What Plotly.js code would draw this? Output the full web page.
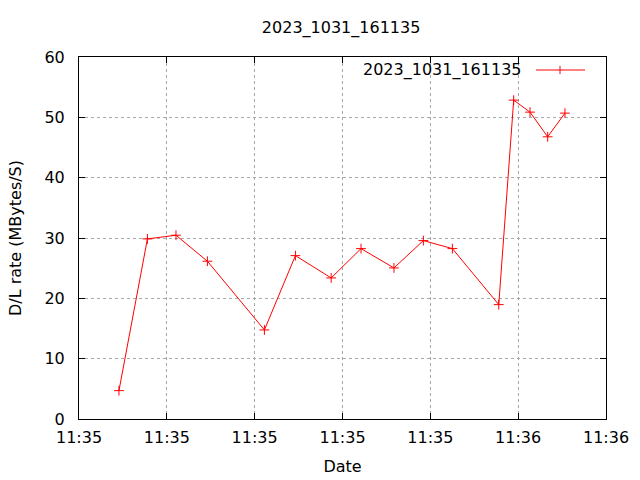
<!DOCTYPE html>
<html>
<head>
<meta charset="utf-8">
<script src="https://cdn.plot.ly/plotly-3.0.1.min.js"></script>
<style>html,body{margin:0;padding:0;background:#fff;}#chart{width:640px;height:480px;}</style>
</head>
<body>
<div id="chart"></div>
<script>
var seriesName = "2023_1031_161135";
var times = [
  "2023-10-31 11:35:14.55", "2023-10-31 11:35:17.79", "2023-10-31 11:35:21.04",
  "2023-10-31 11:35:24.62", "2023-10-31 11:35:31.11", "2023-10-31 11:35:34.64",
  "2023-10-31 11:35:38.71", "2023-10-31 11:35:42.11", "2023-10-31 11:35:45.86",
  "2023-10-31 11:35:49.21", "2023-10-31 11:35:52.51", "2023-10-31 11:35:57.79",
  "2023-10-31 11:35:59.49", "2023-10-31 11:36:01.35", "2023-10-31 11:36:03.36",
  "2023-10-31 11:36:05.33"
];
var rates = [4.7, 29.85, 30.46, 26.15, 14.76, 27.08, 23.38, 28.24, 25.04, 29.57,
             28.24, 18.96, 52.85, 50.86, 46.77, 50.70];
var xRange = ["2023-10-31 11:35:10", "2023-10-31 11:36:10"];
var yRange = [0, 60];

var font = "DejaVu Sans";
var fs = 16;
var trace = {
  x: times, y: rates, type: "scatter", mode: "lines+markers",
  name: seriesName, showlegend: false,
  line: {color: "#ff0000", width: 1},
  marker: {symbol: "cross-thin-open", size: 7, color: "#ff0000", line: {color: "#ff0000", width: 1}}
};
var axisCommon = {
  showline: true, linecolor: "#000", linewidth: 1, mirror: "all",
  ticks: "inside", ticklen: 6, tickcolor: "#000", tickwidth: 1,
  showgrid: true, gridcolor: "#a8a8a8", griddash: "dot", gridwidth: 1,
  zeroline: false, tickfont: {family: font, size: fs, color: "#000"}
};
// legend key placed in paper fractions (plot area spans 79..606 px horizontally, 57..419 vertically)
var keyY = 1 - (70 - 57) / 362;
var keyX0 = (536 - 79) / 527, keyX1 = (585 - 79) / 527, keyXm = (560 - 79) / 527;
var layout = {
  width: 640, height: 480,
  margin: {l: 79, r: 34, t: 57, b: 61},
  paper_bgcolor: "#fff", plot_bgcolor: "#fff",
  font: {family: font, color: "#000"},
  title: {text: seriesName, font: {family: font, size: fs, color: "#000"}, x: 0.533, xanchor: "center", y: 0.942, yanchor: "middle"},
  xaxis: Object.assign({}, axisCommon, {
    type: "date", range: xRange, tick0: xRange[0], dtick: 10000, tickformat: "%H:%M",
    ticklabelstandoff: 4,
    title: {text: "Date", font: {family: font, size: fs, color: "#000"}, standoff: 14}
  }),
  yaxis: Object.assign({}, axisCommon, {
    range: yRange, dtick: 10, ticklabelstandoff: 10,
    title: {text: "D/L rate (MBytes/S)", font: {family: font, size: fs, color: "#000"}, standoff: 18}
  }),
  showlegend: false,
  shapes: [
    {type: "line", xref: "paper", yref: "paper", x0: keyX0, x1: keyX1, y0: keyY, y1: keyY,
     line: {color: "#ff0000", width: 1}},
    {type: "line", xref: "paper", yref: "paper", x0: keyXm, x1: keyXm, y0: keyY - 4 / 362, y1: keyY + 4 / 362,
     line: {color: "#ff0000", width: 1}}
  ],
  annotations: [{
    text: seriesName, xref: "paper", yref: "paper", x: (524 - 79) / 527, y: keyY,
    xanchor: "right", yanchor: "middle", showarrow: false,
    font: {family: font, size: fs, color: "#000"}
  }]
};
Plotly.newPlot("chart", [trace], layout, {staticPlot: true, displayModeBar: false});
</script>
</body>
</html>
